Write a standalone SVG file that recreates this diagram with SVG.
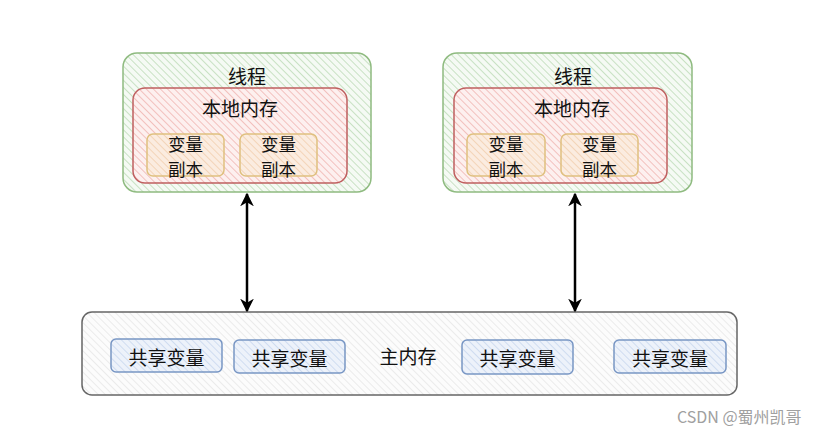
<svg xmlns="http://www.w3.org/2000/svg" width="828" height="436" viewBox="0 0 828 436">
<style>
text{font-family:"Noto Sans CJK SC","Noto Sans",sans-serif;font-size:19px;fill:#111;text-anchor:middle;dominant-baseline:central}
.sm{font-size:17.5px}
.wm{font-size:16px;fill:#a0a0a0;text-anchor:start}
.conn{stroke:#000;stroke-width:2.5;fill:none;marker-start:url(#ah);marker-end:url(#ah)}
</style>
<defs>
<pattern id="hg" width="5" height="5" patternUnits="userSpaceOnUse" patternTransform="rotate(-45)"><rect width="5" height="5" fill="#f5faf4"/><line x1="0" y1="0" x2="0" y2="5" stroke="#c8e1c3" stroke-width="2"/></pattern>
<pattern id="hr" width="5" height="5" patternUnits="userSpaceOnUse" patternTransform="rotate(-45)"><rect width="5" height="5" fill="#fdf0ef"/><line x1="0" y1="0" x2="0" y2="5" stroke="#f2c0bd" stroke-width="2"/></pattern>
<pattern id="hy" width="5" height="5" patternUnits="userSpaceOnUse" patternTransform="rotate(-45)"><rect width="5" height="5" fill="#fbece0"/><line x1="0" y1="0" x2="0" y2="5" stroke="#f3d4b8" stroke-width="2"/></pattern>
<pattern id="hb" width="5" height="5" patternUnits="userSpaceOnUse" patternTransform="rotate(-45)"><rect width="5" height="5" fill="#edf2fa"/><line x1="0" y1="0" x2="0" y2="5" stroke="#cfdcf0" stroke-width="2"/></pattern>
<pattern id="hs" width="5" height="5" patternUnits="userSpaceOnUse" patternTransform="rotate(-45)"><rect width="5" height="5" fill="#fcfcfc"/><line x1="0" y1="0" x2="0" y2="5" stroke="#ebebeb" stroke-width="2"/></pattern>
<marker id="ah" viewBox="0 0 10 10" refX="9" refY="5" markerWidth="5.5" markerHeight="5.5" orient="auto-start-reverse"><path d="M0,0 L10,5 L0,10 L3,5 Z" fill="#000"/></marker>
</defs>
<rect width="828" height="436" fill="#fff"/>

<g id="thread1">
<rect x="123" y="53" width="248" height="139" rx="14" fill="url(#hg)" stroke="#8fbb80" stroke-width="1.5"/>
<text x="247" y="75">线程</text>
<g id="local1">
<rect x="133" y="88" width="214" height="95" rx="12" fill="url(#hr)" stroke="#bf5f5f" stroke-width="1.5"/>
<text x="240" y="107">本地内存</text>
</g>
<g id="copy1a"><rect x="147" y="134" width="77" height="42" rx="6" fill="url(#hy)" stroke="#dfc07f" stroke-width="1.5"/><text class="sm" x="185.5" y="143">变量</text><text class="sm" x="185.5" y="168">副本</text></g>
<g id="copy1b"><rect x="240" y="134" width="77" height="42" rx="6" fill="url(#hy)" stroke="#dfc07f" stroke-width="1.5"/><text class="sm" x="278.5" y="143">变量</text><text class="sm" x="278.5" y="168">副本</text></g>
</g>

<g id="thread2">
<rect x="443" y="53" width="249" height="139" rx="14" fill="url(#hg)" stroke="#8fbb80" stroke-width="1.5"/>
<text x="573" y="75">线程</text>
<g id="local2">
<rect x="454" y="88" width="213" height="95" rx="12" fill="url(#hr)" stroke="#bf5f5f" stroke-width="1.5"/>
<text x="572" y="107">本地内存</text>
</g>
<g id="copy2a"><rect x="467" y="134" width="78" height="42" rx="6" fill="url(#hy)" stroke="#dfc07f" stroke-width="1.5"/><text class="sm" x="506" y="143">变量</text><text class="sm" x="506" y="168">副本</text></g>
<g id="copy2b"><rect x="561" y="134" width="77" height="42" rx="6" fill="url(#hy)" stroke="#dfc07f" stroke-width="1.5"/><text class="sm" x="599.5" y="143">变量</text><text class="sm" x="599.5" y="168">副本</text></g>
</g>

<g id="mainmem">
<rect x="82" y="312" width="655" height="83" rx="10" fill="url(#hs)" stroke="#666" stroke-width="1.5"/>
<text x="408" y="355">主内存</text>
<g id="shared1"><rect x="111" y="339" width="111" height="33" rx="5" fill="url(#hb)" stroke="#7896c4" stroke-width="1.5"/><text x="166.5" y="356">共享变量</text></g>
<g id="shared2"><rect x="234" y="340" width="111" height="33" rx="5" fill="url(#hb)" stroke="#7896c4" stroke-width="1.5"/><text x="289.5" y="357">共享变量</text></g>
<g id="shared3"><rect x="462" y="340" width="111" height="34" rx="5" fill="url(#hb)" stroke="#7896c4" stroke-width="1.5"/><text x="517.5" y="357">共享变量</text></g>
<g id="shared4"><rect x="614" y="340" width="112" height="33" rx="5" fill="url(#hb)" stroke="#7896c4" stroke-width="1.5"/><text x="670" y="357">共享变量</text></g>
</g>

<g id="connectors">
<line class="conn" x1="247" y1="194" x2="247" y2="311"/>
<line class="conn" x1="575" y1="194" x2="575" y2="311"/>
</g>

<text class="wm" x="677" y="416">CSDN @蜀州凯哥</text>
</svg>
